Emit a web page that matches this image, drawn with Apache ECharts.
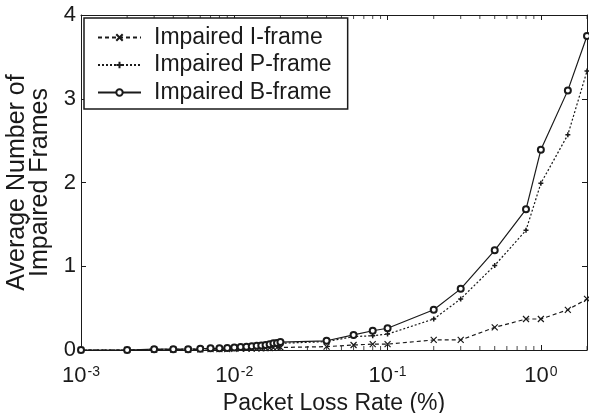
<!DOCTYPE html>
<html>
<head>
<meta charset="utf-8">
<script src="https://cdn.jsdelivr.net/npm/echarts@6/dist/echarts.min.js"></script>
<style>html,body{margin:0;padding:0;background:#fff}#c{width:589px;height:413px}</style>
</head>
<body>
<div id="c"></div>
<script>
var lossRate = [0.001,0.002,0.003,0.004,0.005,0.006,0.007,0.008,0.009,0.010,
  0.011,0.012,0.013,0.014,0.015,0.016,0.017,0.018,0.019,0.020,
  0.04,0.06,0.08,0.1,0.2,0.3,0.5,0.8,1.0,1.5,2.0];
var iFrame = [0,0,0.005,0.005,0.005,0.008,0.01,0.01,0.012,0.015,
  0.016,0.017,0.018,0.019,0.02,0.022,0.024,0.026,0.028,0.03,
  0.04,0.06,0.07,0.07,0.12,0.12,0.27,0.37,0.37,0.48,0.61];
var pFrame = [0,0,0.008,0.008,0.01,0.012,0.015,0.017,0.02,0.025,
  0.03,0.034,0.038,0.042,0.046,0.05,0.058,0.065,0.072,0.08,
  0.1,0.16,0.17,0.19,0.37,0.61,1.01,1.43,1.99,2.57,3.33];
var bFrame = [0,0,0.01,0.01,0.01,0.015,0.02,0.02,0.025,0.03,
  0.035,0.04,0.045,0.05,0.055,0.06,0.07,0.08,0.085,0.095,
  0.11,0.18,0.23,0.26,0.48,0.73,1.19,1.68,2.39,3.1,3.75];
var seriesNames = ['Impaired I-frame','Impaired P-frame','Impaired B-frame'];
var yTicks = [0,1,2,3,4];
var minorTickX = [];
[0.001,0.01,0.1,1].forEach(function(d){for(var k=2;k<=9;k++){var v=+(d*k).toPrecision(3); if(v<=2) minorTickX.push(v);}});

function zip(xs, ys){return xs.map(function(x,i){return [x, ys[i]];});}
var FONT = 'Liberation Sans, Arial, sans-serif';
var INK = '#1a1a1a';

var chart = echarts.init(document.getElementById('c'), null, {renderer:'canvas'});
var xBase = {
  type:'log', logBase:10, min:0.001, max:2,
  axisLine:{show:true, onZero:false, lineStyle:{color:INK, width:1}},
  axisTick:{show:true, inside:true, length:5, lineStyle:{color:INK}},
  splitLine:{show:false}
};
var yBase = {
  type:'value', min:0, max:4, interval:1,
  axisLine:{show:true, onZero:false, lineStyle:{color:INK, width:1}},
  axisTick:{show:true, inside:true, length:5, lineStyle:{color:INK}},
  splitLine:{show:false}
};
var option = {
  backgroundColor:'#fff',
  animation:false,
  grid:{left:81, right:2, top:15, bottom:63, containLabel:false, outerBoundsMode:'none'},
  legend:{
    orient:'vertical', left:84, top:18,
    data:seriesNames,
    itemWidth:43, itemHeight:8, itemGap:4.5,
    padding:[8,16,5,13],
    borderColor:INK, borderWidth:1.5,
    backgroundColor:'#fff',
    textStyle:{fontFamily:FONT, fontSize:23, color:INK, lineHeight:23, padding:[0,0,0,8]}
  },
  xAxis:[
    Object.assign({}, xBase, {
      position:'bottom',
      name:'Packet Loss Rate (%)', nameLocation:'middle', nameGap:33,
      nameTextStyle:{fontFamily:FONT, fontSize:23, color:INK, verticalAlign:'top', lineHeight:23},
      axisLabel:{
        show:true, margin:15, showMaxLabel:false, color:INK,
        formatter:function(v){
          var e = Math.log10(v); var r = Math.round(e);
          if (Math.abs(e-r) > 1e-6) return '';
          return '{b|10}{s|' + r + '}';
        },
        rich:{
          b:{fontFamily:FONT, fontSize:22, color:INK, verticalAlign:'bottom'},
          s:{fontFamily:FONT, fontSize:14, color:INK, verticalAlign:'top', padding:[0,0,0,1]}
        }
      }
    }),
    Object.assign({}, xBase, {position:'top', axisLabel:{show:false}})
  ],
  yAxis:[
    Object.assign({}, yBase, {
      position:'left',
      name:'Average Number of\nImpaired Frames', nameLocation:'middle', nameGap:26, nameRotate:90,
      nameTextStyle:{fontFamily:FONT, fontSize:25, color:INK, lineHeight:23},
      axisLabel:{show:true, margin:5, color:INK, fontFamily:FONT, fontSize:22,
        formatter:function(v){return yTicks.indexOf(v)>=0 ? String(v) : '';}}
    }),
    Object.assign({}, yBase, {position:'right', axisLabel:{show:false}})
  ],
  series:[
    {
      name:seriesNames[0], type:'line', data:zip(lossRate, iFrame),
      symbol:'path://M0,0L10,10M10,0L0,10', symbolSize:6, showAllSymbol:true,
      lineStyle:{color:INK, width:1.2, type:[4,3]},
      itemStyle:{color:'rgba(0,0,0,0)', borderColor:INK, borderWidth:1.2}
    },
    {
      name:seriesNames[1], type:'line', data:zip(lossRate, pFrame),
      symbol:'path://M5,0L5,10M0,5L10,5', symbolSize:5, showAllSymbol:true,
      lineStyle:{color:INK, width:1.2, type:[2,2]},
      itemStyle:{color:'rgba(0,0,0,0)', borderColor:INK, borderWidth:1.5}
    },
    {
      name:seriesNames[2], type:'line', data:zip(lossRate, bFrame),
      symbol:'emptyCircle', symbolSize:6, showAllSymbol:true,
      lineStyle:{color:INK, width:1.2},
      itemStyle:{color:INK, borderColor:INK, borderWidth:1}
    },
    {
      name:'minorBottom', type:'scatter', silent:true, z:1,
      data:minorTickX.map(function(x){return [x,0];}),
      symbol:'rect', symbolSize:[1,4], symbolOffset:[0,-2],
      itemStyle:{color:INK}
    },
    {
      name:'minorTop', type:'scatter', silent:true, z:1,
      data:minorTickX.map(function(x){return [x,4];}),
      symbol:'rect', symbolSize:[1,4], symbolOffset:[0,2],
      itemStyle:{color:INK}
    }
  ]
};
chart.setOption(option);
</script>
</body>
</html>
